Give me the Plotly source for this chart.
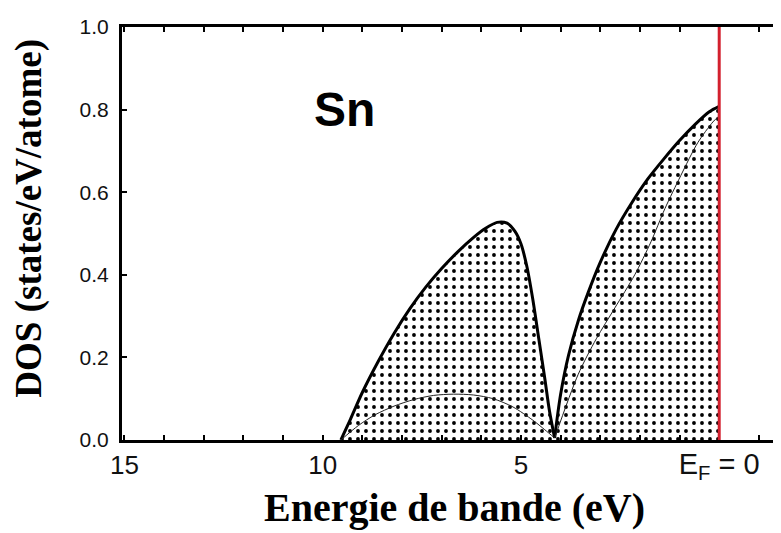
import plotly.graph_objects as go

# Total DOS (thick outline), two lobes meeting at a cusp
lobe1_E = [9.54, 9.3, 9.0, 8.6, 8.2, 7.8, 7.4, 7.0, 6.6, 6.2, 5.9, 5.6, 5.35, 5.15, 5.0, 4.85, 4.7, 4.55, 4.4, 4.28, 4.15]
lobe1_D = [0.0, 0.05, 0.115, 0.19, 0.258, 0.318, 0.37, 0.415, 0.455, 0.49, 0.512, 0.527, 0.525, 0.505, 0.475, 0.42, 0.34, 0.245, 0.15, 0.07, 0.005]
lobe2_E = [4.15, 4.0, 3.8, 3.55, 3.3, 3.0, 2.6, 2.2, 1.8, 1.4, 1.0, 0.6, 0.25, 0.0]
lobe2_D = [0.005, 0.11, 0.205, 0.29, 0.358, 0.43, 0.51, 0.575, 0.632, 0.68, 0.725, 0.765, 0.795, 0.808]

# Partial DOS (thin line)
thin1_E = [9.54, 9.1, 8.68, 8.2, 7.7, 7.2, 6.7, 6.2, 5.7, 5.2, 4.7, 4.4, 4.15]
thin1_D = [0.0, 0.035, 0.061, 0.082, 0.098, 0.108, 0.111, 0.109, 0.1, 0.08, 0.048, 0.025, 0.005]
thin2_E = [4.15, 3.56, 3.1, 2.63, 2.13, 1.72, 1.37, 0.97, 0.54, 0.16, 0.0]
thin2_D = [0.005, 0.158, 0.245, 0.32, 0.40, 0.48, 0.56, 0.64, 0.72, 0.77, 0.785]

x_tickvals = [15, 10, 5, 0]
x_ticktext = ["15", "10", "5", "<span style='font-size:29px'>E<sub>F</sub> = 0</span>"]
y_tickvals = [0.0, 0.2, 0.4, 0.6, 0.8, 1.0]
y_ticktext = ["0.0", "0.2", "0.4", "0.6", "0.8", "1.0"]

fig = go.Figure()
pattern = dict(shape=".", fgcolor="black", fgopacity=1, bgcolor="white", size=8, solidity=0.18)
for E, D in [(lobe1_E, lobe1_D), (lobe2_E, lobe2_D)]:
    fig.add_trace(go.Scatter(x=E, y=D, mode="lines", fill="tozeroy",
                             fillpattern=pattern, fillcolor="white",
                             line=dict(color="black", width=3, shape="spline", smoothing=0.8),
                             showlegend=False, hoverinfo="skip"))
for E, D in [(thin1_E, thin1_D), (thin2_E, thin2_D)]:
    fig.add_trace(go.Scatter(x=E, y=D, mode="lines",
                             line=dict(color="#222", width=1, shape="spline", smoothing=0.8),
                             showlegend=False, hoverinfo="skip"))

fig.add_shape(type="line", x0=0, x1=0, y0=0, y1=1, xref="x", yref="y",
              line=dict(color="#d3202e", width=3))

fig.add_annotation(x=9.44, y=0.80, xref="x", yref="y", text="<b>Sn</b>", showarrow=False,
                   font=dict(family="Liberation Sans, Arial", size=48, color="black"))

# axis titles as annotations (pixel-matched placement)
fig.add_annotation(x=-0.14, y=0.5375, xref="paper", yref="paper", textangle=-90,
                   text="<b>DOS (states/eV/atome)</b>", showarrow=False,
                   xanchor="center", yanchor="middle",
                   font=dict(family="Liberation Serif, Times New Roman", size=37, color="black"))
fig.add_annotation(x=0.498, y=-0.163, xref="paper", yref="paper",
                   text="<b>Energie de bande (eV)</b>", showarrow=False,
                   xanchor="center", yanchor="middle",
                   font=dict(family="Liberation Serif, Times New Roman", size=40, color="black"))

fig.update_layout(
    width=781, height=533,
    margin=dict(l=114, r=0, t=19, b=101),
    paper_bgcolor="white", plot_bgcolor="white",
    xaxis=dict(range=[15.06, -1.76], tickvals=x_tickvals, ticktext=x_ticktext,
               ticks="inside", ticklen=5, tickwidth=2, tickcolor="black",
               minor=dict(dtick=1, tick0=0, ticks="inside", ticklen=5, tickwidth=2, tickcolor="black"),
               showline=True, linecolor="black", linewidth=3, mirror="allticks",
               showgrid=False, zeroline=False, automargin=False,
               tickfont=dict(family="Liberation Sans, Arial", size=26, color="#111")),
    yaxis=dict(range=[0, 1.0], tickvals=y_tickvals, ticktext=y_ticktext,
               ticks="inside", ticklen=5, tickwidth=2, tickcolor="black",
               showline=True, linecolor="black", linewidth=3, mirror=False,
               showgrid=False, zeroline=False, automargin=False, ticklabelstandoff=6,
               tickfont=dict(family="Liberation Sans, Arial", size=21, color="#111")),
)

fig.write_html("out.html")
